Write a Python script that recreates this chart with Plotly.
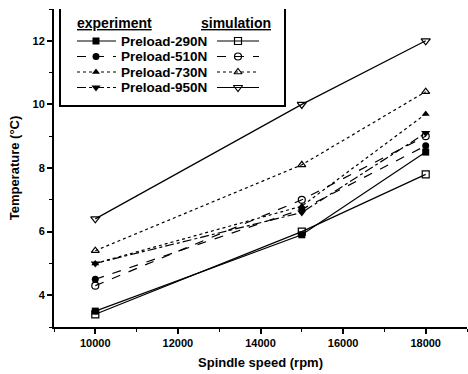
import plotly.graph_objects as go

speeds = [10000, 15000, 18000]
preloads = ["Preload-290N", "Preload-510N", "Preload-730N", "Preload-950N"]
exp_290 = [3.5, 5.9, 8.5]
exp_510 = [4.5, 6.7, 8.7]
exp_730 = [5.0, 6.8, 9.7]
exp_950 = [5.0, 6.6, 9.1]
sim_290 = [3.4, 6.0, 7.8]
sim_510 = [4.3, 7.0, 9.0]
sim_730 = [5.4, 8.1, 10.4]
sim_950 = [6.4, 10.0, 12.0]

x_ticks = [10000, 12000, 14000, 16000, 18000]
y_ticks = [4, 6, 8, 10, 12]

exp_sets = [exp_290, exp_510, exp_730, exp_950]
sim_sets = [sim_290, sim_510, sim_730, sim_950]
exp_sym = ["square", "circle", "triangle-up", "triangle-down"]
sim_sym = ["square-open", "circle-open", "triangle-up-open", "triangle-down-open"]
exp_dash = ["solid", "dash", "dot", "dashdot"]
sim_dash = ["solid", "dash", "dot", "solid"]
msize = [7, 7, 7, 8]

fig = go.Figure()
for i in range(4):
    fig.add_trace(go.Scatter(x=speeds, y=exp_sets[i], mode="lines+markers",
                             line=dict(color="black", width=1.2, dash=exp_dash[i]),
                             marker=dict(symbol=exp_sym[i], size=msize[i], color="black"),
                             showlegend=False))
    fig.add_trace(go.Scatter(x=speeds, y=sim_sets[i], mode="lines+markers",
                             line=dict(color="black", width=1.2, dash=sim_dash[i]),
                             marker=dict(symbol=sim_sym[i], size=msize[i], color="black",
                                         line=dict(width=1.2, color="black")),
                             showlegend=False))

# custom legend on overlay axes in pixel-like units
row_y = [41, 56.5, 72, 87.5]
for i in range(4):
    fig.add_trace(go.Scatter(x=[77, 96, 116], y=[row_y[i]] * 3, mode="lines",
                             line=dict(color="black", width=1.2, dash=exp_dash[i]),
                             xaxis="x2", yaxis="y2", showlegend=False, hoverinfo="skip"))
    fig.add_trace(go.Scatter(x=[96], y=[row_y[i]], mode="markers",
                             marker=dict(symbol=exp_sym[i], size=msize[i], color="black"),
                             xaxis="x2", yaxis="y2", showlegend=False, hoverinfo="skip"))
    fig.add_trace(go.Scatter(x=[217, 238, 259], y=[row_y[i]] * 3, mode="lines",
                             line=dict(color="black", width=1.2, dash=sim_dash[i]),
                             xaxis="x2", yaxis="y2", showlegend=False, hoverinfo="skip"))
    fig.add_trace(go.Scatter(x=[238], y=[row_y[i]], mode="markers",
                             marker=dict(symbol=sim_sym[i], size=msize[i], color="black",
                                         line=dict(width=1.2, color="black")),
                             xaxis="x2", yaxis="y2", showlegend=False, hoverinfo="skip"))

annotations = []
for i in range(4):
    annotations.append(dict(x=119, y=row_y[i], xref="x2", yref="y2", text="<b>" + preloads[i] + "</b>",
                            showarrow=False, xanchor="left", yanchor="middle",
                            font=dict(family="Liberation Sans", size=13.5, color="black")))
annotations.append(dict(x=75, y=23, xref="x2", yref="y2", text="<b><u>experiment</u></b>",
                        showarrow=False, xanchor="left", yanchor="middle",
                        font=dict(family="Liberation Sans", size=14, color="black")))
annotations.append(dict(x=199, y=23, xref="x2", yref="y2", text="<b><u>simulation</u></b>",
                        showarrow=False, xanchor="left", yanchor="middle",
                        font=dict(family="Liberation Sans", size=14, color="black")))

fig.update_layout(
    width=468, height=374,
    margin=dict(l=54, r=1, t=9, b=47),
    paper_bgcolor="white", plot_bgcolor="white",
    font=dict(family="Liberation Sans", color="black"),
    annotations=annotations,
    shapes=[dict(type="rect", xref="x2", yref="y2", x0=60, x1=285, y0=8, y1=106,
                 line=dict(color="black", width=2), fillcolor="rgba(0,0,0,0)")],
    xaxis=dict(range=[9000, 19000], tickvals=x_ticks, ticktext=["<b>%d</b>" % v for v in x_ticks],
               showgrid=False, zeroline=False, showline=True, linecolor="black", linewidth=2,
               ticks="outside", ticklen=5, tickwidth=1.5, tickcolor="black",
               tickfont=dict(size=11, family="Liberation Sans"),
               minor=dict(tickvals=[9000, 11000, 13000, 15000, 17000, 19000], ticks="outside",
                          ticklen=3, tickwidth=1.2, tickcolor="black"),
               title=dict(text="<b>Spindle speed (rpm)</b>", font=dict(size=13), standoff=10)),
    yaxis=dict(range=[3, 13], tickvals=y_ticks, ticktext=["<b>%d</b>" % v for v in y_ticks],
               showgrid=False, zeroline=False, showline=True, linecolor="black", linewidth=2,
               ticks="outside", ticklen=5, tickwidth=1.5, tickcolor="black",
               tickfont=dict(size=11, family="Liberation Sans"),
               minor=dict(tickvals=[3, 5, 7, 9, 11, 13], ticks="outside",
                          ticklen=3, tickwidth=1.2, tickcolor="black"),
               title=dict(text="<b>Temperature (°C)</b>", font=dict(size=13), standoff=10)),
    xaxis2=dict(range=[54, 467], domain=[0, 1], overlaying="x", visible=False, anchor="y2"),
    yaxis2=dict(range=[327, 9], domain=[0, 1], overlaying="y", visible=False, anchor="x2"),
)

fig.write_html("out.html")
